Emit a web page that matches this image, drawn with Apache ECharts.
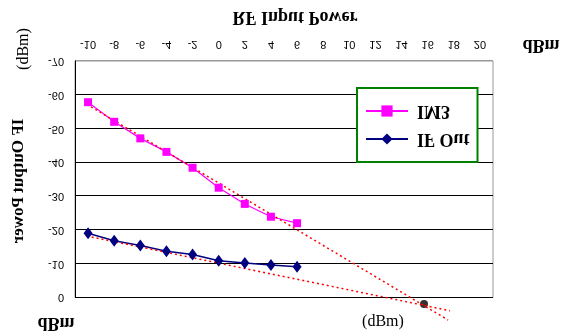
<!DOCTYPE html>
<html><head><meta charset="utf-8">
<script src="https://cdn.jsdelivr.net/npm/echarts@6/dist/echarts.min.js"></script>
<style>html,body{margin:0;padding:0;background:#fff;}#c{width:574px;height:333px;transform:scaleY(-1);}</style>
</head><body><div id="c"></div>
<script>
// RF input power (dBm) of measured points
const xValues = [-10, -8, -6, -4, -2, 0, 2, 4, 6];
const im3 = [-57.8, -52.0, -47.1, -43.1, -38.4, -32.5, -27.7, -23.9, -22.0];
const ifOut = [-19.0, -16.8, -15.4, -13.7, -12.7, -10.9, -10.2, -9.6, -9.1];
// extrapolated trend lines and intercept point
const im3Trend = [[-10.1, -57.2], [17.56, 6.66]];
const ifTrend = [[-10.1, -18.2], [17.7, 3.9]];
const ip3 = [[15.72, 1.92]];
// tick labels
const xTicks = [-10, -8, -6, -4, -2, 0, 2, 4, 6, 8, 10, 12, 14, 16, 18, 20];
const yMin = -70, yMax = 0, yStep = 10;

const serif = "'Liberation Serif', 'Times New Roman', serif";
const sans = "'Liberation Sans', Arial, sans-serif";
const pair = (xs, ys) => xs.map((x, i) => [x, ys[i]]);

const chart = echarts.init(document.getElementById('c'), null, {renderer: 'canvas'});
chart.setOption({
  animation: false,
  backgroundColor: '#fff',
  grid: {left: 75, top: 35.5, width: 418, height: 236.5, show: true, borderColor: '#999', borderWidth: 1},
  xAxis: {
    type: 'value', min: -11, max: 21,
    axisLine: {show: false, onZero: false}, axisTick: {show: false}, splitLine: {show: false},
    axisLabel: {customValues: xTicks, fontSize: 11, fontFamily: sans, color: '#000', margin: 11}
  },
  yAxis: {
    type: 'value', min: yMin, max: yMax, interval: yStep,
    axisLine: {show: true, onZero: false, lineStyle: {color: '#000', width: 1}},
    axisTick: {show: false},
    axisLabel: {fontSize: 11, fontFamily: sans, color: '#000', margin: 11},
    splitLine: {show: true, lineStyle: {color: ['#999', '#000', '#000', '#000', '#000', '#000', '#000', '#000'], width: 1}}
  },
  legend: {
    orient: 'vertical', left: 357, top: 171,
    data: ['IF Out', 'IM3'],
    backgroundColor: '#fff', borderColor: '#008000', borderWidth: 2,
    padding: [14, 8, 14, 8], itemWidth: 42, itemHeight: 14, itemGap: 10,
    textStyle: {fontFamily: serif, fontWeight: 'bold', fontSize: 18, color: '#000', padding: [0, 0, 0, 4]}
  },
  series: [
    {name: 'IM3', type: 'line', data: pair(xValues, im3), symbol: 'rect', symbolSize: 8,
     lineStyle: {color: '#FF00FF', width: 1.2}, itemStyle: {color: '#FF00FF'}},
    {name: 'IF Out', type: 'line', data: pair(xValues, ifOut), symbol: 'diamond', symbolSize: [9, 12],
     lineStyle: {color: '#000080', width: 1.5}, itemStyle: {color: '#000080'}},
    {name: 'IM3 trend', type: 'line', data: im3Trend, symbol: 'none', clip: false, silent: true,
     lineStyle: {color: '#FF0000', width: 1.5, type: [2, 3]}},
    {name: 'IF trend', type: 'line', data: ifTrend, symbol: 'none', clip: false, silent: true,
     lineStyle: {color: '#FF0000', width: 1.5, type: [2, 3]}},
    {name: 'IP3', type: 'scatter', data: ip3, symbol: 'circle', symbolSize: 8, clip: false,
     itemStyle: {color: '#000'}}
  ],
  graphic: [
    {type: 'text', x: 295, y: 316, style: {text: 'RF Input Power', font: 'bold 18px ' + serif, fill: '#000', align: 'center', verticalAlign: 'middle', textAlign: 'center', textVerticalAlign: 'middle'}},
    {type: 'text', x: 541, y: 288, style: {text: 'dBm', font: 'bold 18px ' + serif, fill: '#000', align: 'center', verticalAlign: 'middle', textAlign: 'center', textVerticalAlign: 'middle'}},
    {type: 'text', x: 56, y: 10, style: {text: 'dBm', font: 'bold 18px ' + serif, fill: '#000', align: 'center', verticalAlign: 'middle', textAlign: 'center', textVerticalAlign: 'middle'}},
    {type: 'text', x: 19, y: 152, rotation: Math.PI / 2, style: {text: 'IF Output Power', font: 'bold 17px ' + serif, fill: '#000', align: 'center', verticalAlign: 'middle', textAlign: 'center', textVerticalAlign: 'middle'}},
    {type: 'text', x: 24, y: 284, rotation: -Math.PI / 2, scaleY: -1, style: {text: '(dBm)', font: '16px ' + serif, fill: '#000', align: 'center', verticalAlign: 'middle', textAlign: 'center', textVerticalAlign: 'middle'}},
    {type: 'text', x: 383, y: 11, scaleY: -1, style: {text: '(dBm)', font: '16px ' + serif, fill: '#000', align: 'center', verticalAlign: 'middle', textAlign: 'center', textVerticalAlign: 'middle'}}
  ]
});
</script></body></html>
